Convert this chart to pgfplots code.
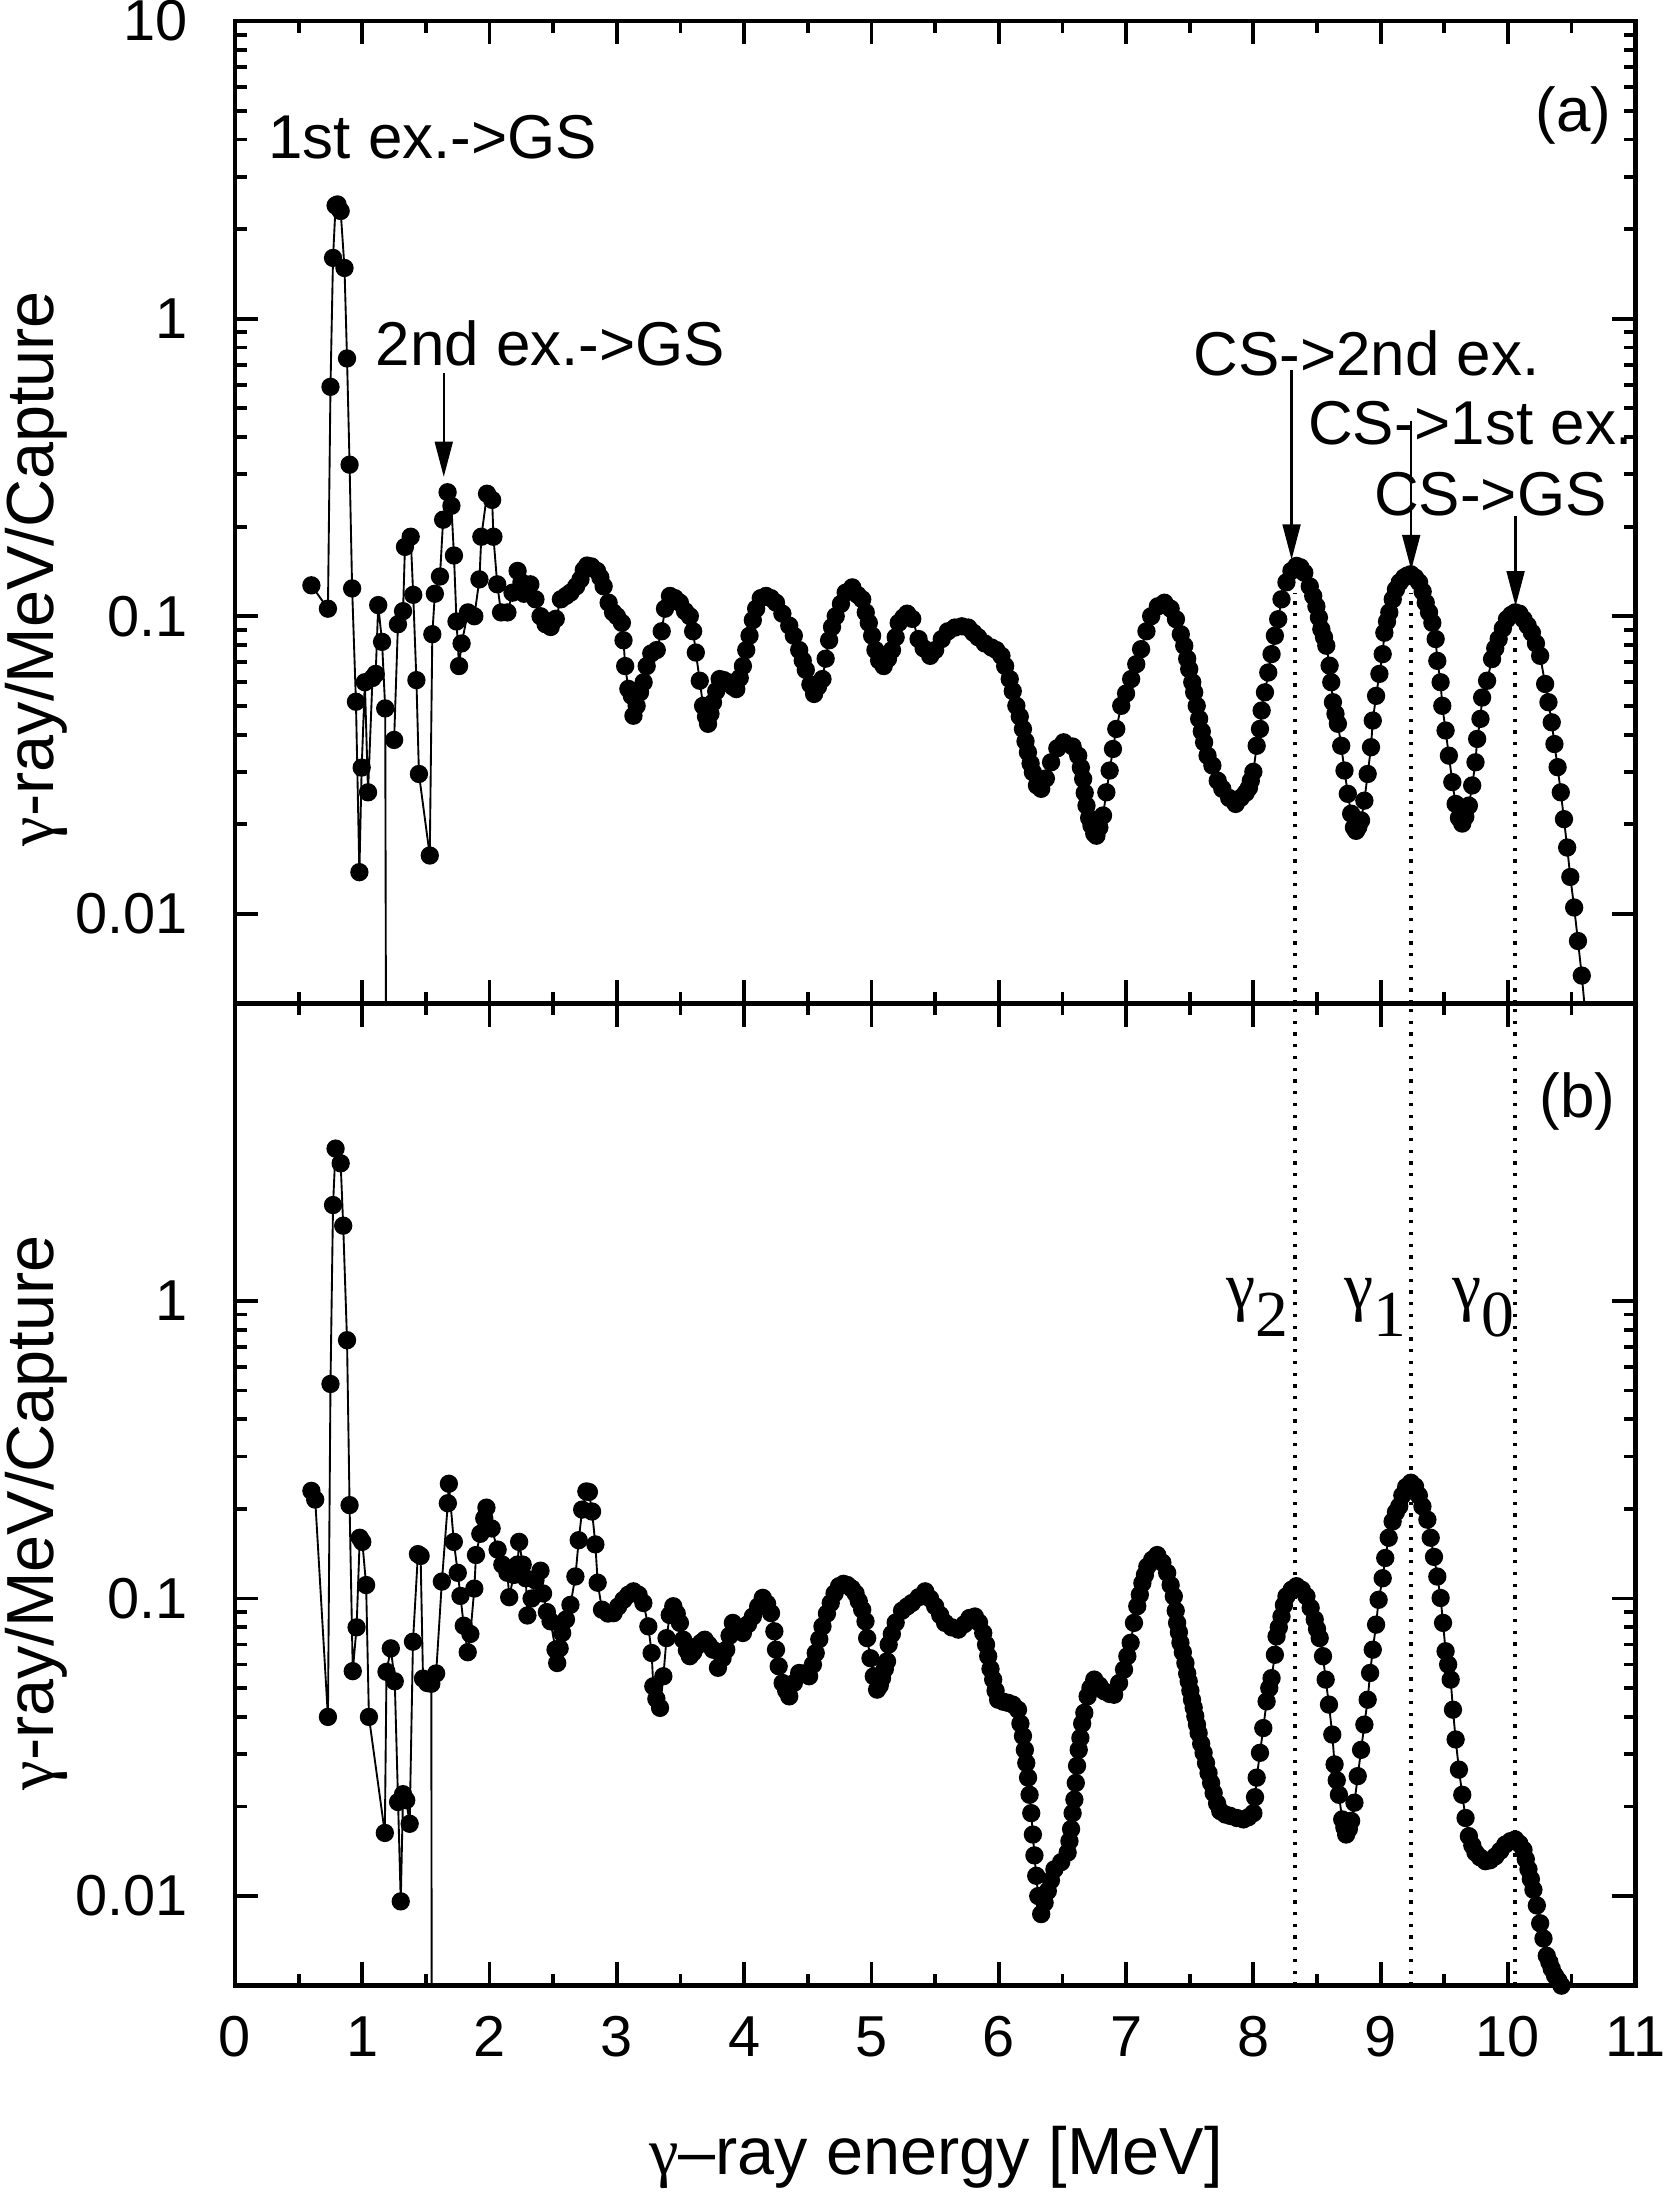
\documentclass[border=0pt]{standalone}
\usepackage{fontspec}
\setmainfont{Liberation Sans}
\newfontfamily\serif{Liberation Serif}
\usepackage{pgfplots}
\usepackage{pgfplotstable}
\pgfplotsset{compat=1.18}
\usetikzlibrary{arrows.meta}

\pgfplotstableread{
x y
0.60 0.127
0.73 0.106
0.75 0.59
0.77 1.60
0.79 2.40
0.805 2.42
0.83 2.30
0.86 1.48
0.88 0.735
0.90 0.323
0.92 0.124
0.95 0.0516
0.977 0.0138
0.995 0.031
1.02 0.060
1.045 0.0256
1.08 0.062
1.105 0.064
1.125 0.109
1.155 0.082
1.18 0.049
1.195 0.0001
1.20 nan
1.25 0.0384
1.28 0.094
1.32 0.104
1.335 0.171
1.38 0.185
1.40 0.118
1.425 0.061
1.445 0.0295
1.53 0.0157
1.55 0.087
1.57 0.119
1.61 0.136
1.635 0.211
1.67 0.261
1.70 0.235
1.72 0.16
1.74 0.096
1.76 0.068
1.78 0.081
1.83 0.103
1.88 0.100
1.92 0.133
1.935 0.185
1.98 0.258
2.02 0.246
2.03 0.185
2.06 0.128
2.09 0.103
2.14 0.103
2.18 0.120
2.22 0.142
2.25 0.130
2.27 0.119
2.30 0.120
2.32 0.128
2.36 0.114
2.40 0.100
2.44 0.094
2.48 0.092
2.52 0.098
2.56 0.114
2.60 0.117
2.635 0.120
2.68 0.126
2.714 0.133
2.74 0.143
2.766 0.148
2.80 0.147
2.844 0.142
2.87 0.135
2.896 0.126
2.935 0.111
2.97 0.103
3.00 0.100
3.039 0.095
3.052 0.083
3.065 0.068
3.09 0.057
3.117 0.054
3.13 0.0463
3.155 0.050
3.182 0.0555
3.21 0.060
3.234 0.068
3.27 0.075
3.313 0.077
3.352 0.089
3.378 0.106
3.417 0.117
3.455 0.115
3.495 0.111
3.535 0.104
3.573 0.100
3.599 0.089
3.62 0.0755
3.651 0.0607
3.677 0.050
3.70 0.046
3.716 0.0435
3.735 0.047
3.755 0.0513
3.78 0.056
3.807 0.0615
3.84 0.061
3.872 0.060
3.91 0.058
3.938 0.0569
3.965 0.062
3.99 0.068
4.016 0.077
4.042 0.086
4.068 0.097
4.094 0.106
4.13 0.115
4.172 0.117
4.21 0.115
4.25 0.111
4.30 0.102
4.354 0.093
4.39 0.086
4.432 0.077
4.46 0.071
4.484 0.066
4.52 0.059
4.549 0.0548
4.58 0.058
4.615 0.0615
4.64 0.072
4.667 0.083
4.69 0.092
4.719 0.100
4.76 0.110
4.797 0.120
4.849 0.125
4.89 0.118
4.927 0.114
4.955 0.103
4.979 0.095
5.005 0.086
5.031 0.077
5.06 0.071
5.096 0.068
5.13 0.072
5.161 0.077
5.19 0.085
5.214 0.095
5.25 0.099
5.28 0.102
5.32 0.098
5.37 0.0838
5.41 0.078
5.461 0.0736
5.50 0.077
5.552 0.0838
5.60 0.089
5.656 0.0916
5.71 0.0925
5.76 0.0916
5.80 0.088
5.838 0.085
5.89 0.081
5.943 0.0785
5.98 0.077
6.021 0.0736
6.05 0.068
6.086 0.0615
6.11 0.056
6.138 0.050
6.165 0.046
6.19 0.0418
6.21 0.038
6.229 0.0349
6.25 0.032
6.268 0.0299
6.30 0.027
6.333 0.0263
6.37 0.0285
6.411 0.0323
6.46 0.036
6.51 0.0377
6.58 0.0365
6.624 0.034
6.645 0.031
6.663 0.0284
6.675 0.0255
6.689 0.0231
6.71 0.021
6.728 0.0198
6.75 0.0186
6.767 0.0183
6.79 0.0195
6.819 0.0214
6.845 0.0256
6.871 0.0303
6.897 0.0358
6.923 0.0418
6.962 0.050
7.00 0.055
7.04 0.0615
7.08 0.069
7.118 0.0775
7.16 0.089
7.197 0.100
7.25 0.108
7.301 0.111
7.35 0.106
7.392 0.0977
7.43 0.087
7.457 0.0796
7.48 0.072
7.496 0.0664
7.52 0.060
7.535 0.0555
7.555 0.050
7.574 0.0452
7.595 0.041
7.613 0.0377
7.64 0.034
7.678 0.0315
7.72 0.028
7.756 0.0263
7.81 0.0245
7.861 0.0234
7.90 0.0245
7.94 0.0255
7.965 0.0265
7.98 0.028
8.00 0.030
8.026 0.0367
8.052 0.0418
8.065 0.0482
8.091 0.0555
8.117 0.0647
8.143 0.0746
8.169 0.086
8.195 0.0977
8.221 0.114
8.26 0.130
8.299 0.142
8.339 0.1476
8.37 0.146
8.40 0.140
8.443 0.126
8.47 0.117
8.495 0.108
8.515 0.099
8.534 0.0904
8.555 0.085
8.573 0.0796
8.599 0.0682
8.612 0.060
8.625 0.0514
8.645 0.047
8.664 0.0435
8.69 0.0367
8.716 0.0303
8.742 0.0253
8.768 0.0217
8.79 0.0195
8.807 0.019
8.825 0.0196
8.846 0.0206
8.872 0.024
8.898 0.0295
8.924 0.0363
8.938 0.0446
8.964 0.054
8.99 0.064
9.016 0.0746
9.029 0.088
9.05 0.096
9.068 0.103
9.095 0.114
9.12 0.123
9.15 0.130
9.185 0.135
9.21 0.137
9.237 0.1384
9.27 0.135
9.302 0.130
9.33 0.121
9.354 0.111
9.38 0.103
9.406 0.095
9.432 0.0838
9.445 0.0708
9.471 0.060
9.484 0.050
9.51 0.0413
9.536 0.034
9.563 0.0277
9.589 0.0234
9.615 0.021
9.641 0.0201
9.665 0.0212
9.693 0.0231
9.719 0.027
9.745 0.0323
9.758 0.0387
9.784 0.0452
9.797 0.0533
9.836 0.0607
9.875 0.0718
9.90 0.078
9.927 0.0838
9.96 0.091
9.992 0.0977
10.025 0.101
10.057 0.103
10.09 0.102
10.122 0.0977
10.155 0.093
10.188 0.088
10.22 0.081
10.253 0.0736
10.292 0.0592
10.318 0.0514
10.344 0.044
10.365 0.0372
10.39 0.0311
10.415 0.0256
10.44 0.0208
10.465 0.0167
10.49 0.0133
10.52 0.0105
10.55 0.0081
10.58 0.0062
10.61 0.0045
}\dataA

\pgfplotstableread{
x y
0.60 0.23
0.63 0.215
0.73 0.040
0.75 0.526
0.77 2.10
0.79 3.25
0.83 2.90
0.85 1.79
0.88 0.738
0.90 0.206
0.925 0.057
0.955 0.080
0.98 0.16
1.00 0.155
1.03 0.111
1.052 0.040
1.177 0.0163
1.19 0.0567
1.224 0.068
1.255 0.0527
1.281 0.0207
1.302 0.0096
1.32 0.022
1.345 0.021
1.372 0.0175
1.398 0.0716
1.437 0.141
1.458 0.139
1.477 0.0538
1.51 0.052
1.542 0.0517
1.55 0.0001
1.552 nan
1.58 0.056
1.625 0.114
1.672 0.209
1.68 0.243
1.719 0.155
1.75 0.122
1.771 0.102
1.797 0.081
1.828 0.066
1.849 0.076
1.88 0.108
1.893 0.14
1.927 0.165
1.958 0.186
1.975 0.202
2.016 0.172
2.063 0.146
2.10 0.13
2.14 0.122
2.154 0.101
2.19 0.12
2.219 0.130
2.232 0.155
2.26 0.13
2.284 0.117
2.297 0.0877
2.33 0.10
2.36 0.115
2.40 0.124
2.42 0.104
2.45 0.09
2.479 0.0838
2.518 0.0673
2.531 0.0607
2.55 0.068
2.57 0.0766
2.60 0.085
2.635 0.0952
2.674 0.1186
2.70 0.157
2.727 0.199
2.76 0.229
2.78 0.228
2.805 0.196
2.831 0.152
2.849 0.113
2.883 0.0917
2.93 0.089
2.974 0.0893
3.01 0.094
3.052 0.099
3.09 0.103
3.13 0.1057
3.17 0.103
3.208 0.0966
3.247 0.0806
3.273 0.0656
3.286 0.0507
3.31 0.046
3.339 0.0429
3.365 0.0548
3.39 0.0736
3.415 0.088
3.443 0.0942
3.47 0.089
3.495 0.0828
3.521 0.0727
3.55 0.067
3.573 0.064
3.60 0.066
3.625 0.069
3.66 0.071
3.69 0.0727
3.72 0.070
3.755 0.0673
3.794 0.0585
3.83 0.063
3.859 0.0673
3.885 0.075
3.911 0.0828
3.95 0.080
3.99 0.0766
4.03 0.082
4.068 0.087
4.11 0.094
4.146 0.1005
4.18 0.096
4.211 0.0893
4.237 0.0776
4.25 0.0673
4.271 0.0592
4.302 0.052
4.33 0.049
4.354 0.0469
4.39 0.052
4.432 0.0562
4.47 0.056
4.51 0.0548
4.54 0.060
4.562 0.0656
4.59 0.073
4.615 0.0806
4.65 0.089
4.68 0.0966
4.71 0.104
4.745 0.110
4.78 0.112
4.81 0.111
4.845 0.108
4.875 0.104
4.90 0.098
4.927 0.0917
4.953 0.0838
4.966 0.0736
4.992 0.063
5.018 0.0548
5.044 0.0494
5.065 0.051
5.083 0.054
5.105 0.058
5.122 0.0615
5.135 0.070
5.16 0.076
5.19 0.083
5.24 0.091
5.28 0.094
5.318 0.0966
5.37 0.101
5.422 0.1057
5.46 0.100
5.50 0.0942
5.54 0.088
5.578 0.0828
5.63 0.080
5.682 0.0786
5.73 0.082
5.77 0.086
5.812 0.087
5.845 0.083
5.878 0.0766
5.90 0.070
5.917 0.064
5.935 0.058
5.956 0.0534
5.975 0.049
5.995 0.0457
6.035 0.0450
6.073 0.0446
6.11 0.044
6.151 0.0423
6.17 0.038
6.19 0.0345
6.205 0.031
6.216 0.028
6.23 0.025
6.242 0.0219
6.255 0.019
6.268 0.0161
6.28 0.0137
6.294 0.0117
6.31 0.0100
6.333 0.0087
6.36 0.0095
6.385 0.0104
6.41 0.0113
6.437 0.0123
6.49 0.0130
6.541 0.014
6.555 0.0153
6.568 0.0168
6.58 0.019
6.594 0.0211
6.605 0.024
6.615 0.0274
6.628 0.031
6.641 0.034
6.655 0.038
6.672 0.0413
6.698 0.0469
6.72 0.050
6.75 0.0534
6.79 0.051
6.828 0.0488
6.87 0.0478
6.906 0.0475
6.945 0.052
6.984 0.0577
7.01 0.064
7.036 0.071
7.062 0.0828
7.088 0.0942
7.108 0.103
7.128 0.1127
7.148 0.120
7.167 0.128
7.205 0.135
7.245 0.140
7.285 0.132
7.323 0.122
7.35 0.111
7.375 0.1017
7.39 0.091
7.401 0.0828
7.415 0.077
7.427 0.071
7.446 0.066
7.466 0.0607
7.48 0.056
7.492 0.0527
7.505 0.049
7.518 0.0457
7.531 0.043
7.544 0.0402
7.557 0.0377
7.57 0.0353
7.59 0.0325
7.609 0.0303
7.628 0.028
7.648 0.0259
7.668 0.024
7.688 0.0222
7.715 0.0205
7.74 0.0193
7.78 0.0188
7.818 0.0186
7.87 0.0183
7.922 0.0181
7.96 0.0184
8.00 0.019
8.013 0.0215
8.026 0.025
8.052 0.0303
8.078 0.0367
8.104 0.0451
8.125 0.050
8.143 0.054
8.169 0.0647
8.182 0.0746
8.20 0.080
8.221 0.087
8.24 0.095
8.26 0.1017
8.30 0.107
8.339 0.110
8.38 0.107
8.417 0.1017
8.45 0.093
8.482 0.085
8.50 0.079
8.521 0.0736
8.547 0.064
8.568 0.0534
8.594 0.044
8.62 0.0349
8.638 0.0277
8.655 0.0245
8.672 0.0219
8.698 0.0181
8.715 0.017
8.729 0.0161
8.75 0.0168
8.768 0.0179
8.794 0.0206
8.82 0.0253
8.846 0.031
8.872 0.0377
8.898 0.0457
8.917 0.0562
8.938 0.0673
8.964 0.0817
8.984 0.099
9.016 0.117
9.036 0.1368
9.063 0.160
9.094 0.1815
9.12 0.195
9.146 0.204
9.17 0.222
9.20 0.237
9.237 0.245
9.27 0.238
9.30 0.222
9.328 0.204
9.367 0.184
9.393 0.160
9.419 0.138
9.445 0.1185
9.471 0.1004
9.49 0.0828
9.51 0.0665
9.53 0.060
9.55 0.0534
9.568 0.0423
9.589 0.0336
9.615 0.0266
9.641 0.0219
9.667 0.0183
9.693 0.0159
9.72 0.0148
9.745 0.014
9.78 0.0135
9.823 0.0131
9.86 0.0132
9.901 0.0136
9.94 0.0142
9.979 0.0149
10.02 0.0153
10.057 0.0155
10.09 0.015
10.122 0.0143
10.14 0.0133
10.161 0.0123
10.18 0.0114
10.20 0.0105
10.227 0.0093
10.253 0.0081
10.279 0.0072
10.305 0.0063
10.325 0.0060
10.344 0.0057
10.37 0.0054
10.396 0.0052
10.42 0.0050
10.448 0.0048
10.47 0.0045
}\dataB

\tikzset{
  vdot/.style={black, line width=0.8pt, dash pattern=on 0.7pt off 1.8pt},
  arr/.style={black, line width=0.5pt, -{Triangle[length=7.5pt,width=3.8pt]}},
  ann/.style={font=\fontsize{13.2}{15}\selectfont, inner sep=0pt},
  gam/.style={font=\serif\fontsize{14}{16}\selectfont, inner sep=0pt},
}

\begin{document}
\begin{tikzpicture}
\useasboundingbox (-50.1pt,-47.4pt) rectangle (304.5pt,423.3pt);

% panel (b)
\begin{axis}[at={(0pt,0pt)}, anchor=south west,
    scale only axis,
    width=298.5pt, height=209.4pt,
    xmin=0, xmax=11,
    ymode=log, ymin=0.005, ymax=10,
    xtick={0,1,2,3,4,5,6,7,8,9,10,11},
    xticklabels={0,1,2,3,4,5,6,7,8,9,10,11},
    minor x tick num=1,
    ytick={0.01,0.1,1}, yticklabels={0.01,0.1,1},
    tick align=inside,
    xtick pos=both, ytick pos=both,
    major tick length=5pt, minor tick length=2.5pt,
    axis line style={line width=1pt},
    every tick/.style={black, line width=0.8pt},
    tick label style={font=\fontsize{12.3}{14}\selectfont},
    yticklabel style={xshift=-6.5pt},
    xticklabel style={yshift=-3pt},
    clip mode=individual,
    unbounded coords=jump]
\draw[vdot] (axis cs:8.326,0.005) -- (axis cs:8.326,10);
\draw[vdot] (axis cs:9.237,0.005) -- (axis cs:9.237,10);
\draw[vdot] (axis cs:10.057,0.005) -- (axis cs:10.057,10);
\addplot[black, line width=0.4pt, mark=*, mark size=1.75pt, mark options={solid, fill=black}] table[x=x,y=y] {\dataB};
\node[gam] at (axis cs:8.03,0.95) {γ\raisebox{-0.42em}{2}};
\node[gam] at (axis cs:8.955,0.95) {γ\raisebox{-0.42em}{1}};
\node[gam] at (axis cs:9.81,0.95) {γ\raisebox{-0.42em}{0}};
\node[ann] at (axis cs:10.547,4.67) {(b)};
\end{axis}

% panel (a)
\begin{axis}[at={(0pt,209.4pt)}, anchor=south west,
    scale only axis,
    width=298.5pt, height=209.4pt,
    xmin=0, xmax=11,
    ymode=log, ymin=0.005, ymax=10,
    xtick={0,1,2,3,4,5,6,7,8,9,10,11},
    xticklabels={},
    minor x tick num=1,
    ytick={0.01,0.1,1,10}, yticklabels={0.01,0.1,1,10},
    tick align=inside,
    xtick pos=both, ytick pos=both,
    major tick length=5pt, minor tick length=2.5pt,
    axis line style={line width=1pt},
    every tick/.style={black, line width=0.8pt},
    tick label style={font=\fontsize{12.3}{14}\selectfont},
    yticklabel style={xshift=-6.5pt},
    clip mode=individual,
    unbounded coords=jump]
\draw[vdot] (axis cs:8.326,0.005) -- (axis cs:8.326,0.12);
\draw[vdot] (axis cs:9.237,0.005) -- (axis cs:9.237,0.12);
\draw[vdot] (axis cs:10.057,0.005) -- (axis cs:10.057,0.09);
\addplot[black, line width=0.4pt, mark=*, mark size=1.75pt, mark options={solid, fill=black}] table[x=x,y=y] {\dataA};
\draw[arr] (axis cs:1.64,0.658) -- (axis cs:1.64,0.294);
\draw[arr] (axis cs:8.30,0.672) -- (axis cs:8.30,0.155);
\draw[arr] (axis cs:9.24,0.454) -- (axis cs:9.24,0.143);
\draw[arr] (axis cs:10.06,0.217) -- (axis cs:10.06,0.108);
\node[ann] at (axis cs:1.553,4.08) {1st ex.->GS};
\node[ann] at (axis cs:2.477,0.825) {2nd ex.->GS};
\node[ann] at (axis cs:8.889,0.764) {CS->2nd ex.};
\node[ann] at (axis cs:9.707,0.444) {CS->1st ex.};
\node[ann] at (axis cs:9.862,0.2576) {CS->GS};
\node[ann] at (axis cs:10.514,4.83) {(a)};
\end{axis}

\node[font=\fontsize{14.2}{16}\selectfont, rotate=90, anchor=base] at (-38.8pt,302.1pt) {{\serif γ}-ray/MeV/Capture};
\node[font=\fontsize{14.2}{16}\selectfont, rotate=90, anchor=base] at (-38.8pt,100.8pt) {{\serif γ}-ray/MeV/Capture};
\node[font=\fontsize{14.2}{16}\selectfont, anchor=base] at (149.4pt,-40.2pt) {{\serif γ}–ray energy [MeV]};
\end{tikzpicture}
\end{document}
